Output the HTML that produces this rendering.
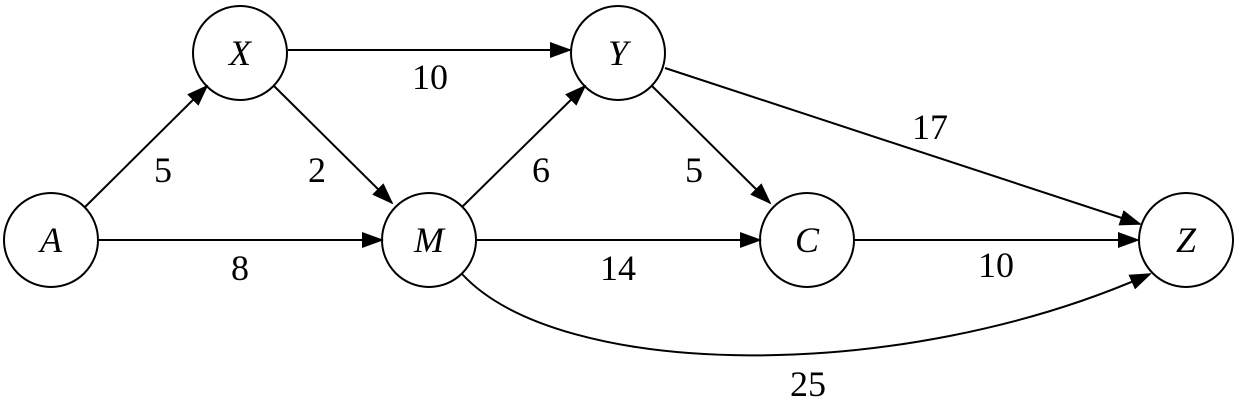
<!DOCTYPE html>
<html><head><style>
html,body{margin:0;padding:0;background:#fff;}
svg text{font-family:"Liberation Serif",serif;font-size:36px;fill:#000;}
.n{font-style:italic;}
</style></head><body>
<svg width="1237" height="404" viewBox="0 0 1237 404" xmlns="http://www.w3.org/2000/svg">
<defs>
<marker id="a" markerUnits="userSpaceOnUse" markerWidth="22" markerHeight="16" refX="20" refY="8" orient="auto">
<path d="M0,0 L22,8 L0,16 Z" fill="#000"/>
</marker>
</defs>
<g stroke="#000" stroke-width="2" fill="none">
<circle cx="51" cy="240" r="47"/>
<circle cx="240" cy="53" r="47"/>
<circle cx="618" cy="53" r="47"/>
<circle cx="429" cy="240" r="47"/>
<circle cx="807" cy="240" r="47"/>
<circle cx="1186" cy="240" r="47"/>
<g marker-end="url(#a)">
<line x1="288" y1="50" x2="570" y2="50"/>
<line x1="85" y1="207" x2="207" y2="86"/>
<line x1="274" y1="86" x2="392" y2="203"/>
<line x1="98" y1="240" x2="382" y2="240"/>
<line x1="462" y1="207" x2="585" y2="86"/>
<line x1="652" y1="86" x2="770" y2="203"/>
<line x1="665" y1="68" x2="1140" y2="224"/>
<line x1="477" y1="240" x2="760" y2="240"/>
<line x1="855" y1="240" x2="1138" y2="240"/>
<path d="M462,274 C560,380 900,385 1150,274"/>
</g>
</g>
<g text-anchor="middle">
<text class="n" x="51" y="252">A</text>
<text class="n" x="240" y="65">X</text>
<text class="n" x="618" y="65">Y</text>
<text class="n" x="429" y="252">M</text>
<text class="n" x="807" y="252">C</text>
<text class="n" x="1186" y="252">Z</text>
<text x="430" y="89">10</text>
<text x="163" y="182">5</text>
<text x="317" y="182">2</text>
<text x="240" y="280">8</text>
<text x="541" y="182">6</text>
<text x="694" y="182">5</text>
<text x="930" y="139">17</text>
<text x="618" y="280">14</text>
<text x="996" y="277">10</text>
<text x="808" y="396">25</text>
</g>
</svg>
</body></html>
